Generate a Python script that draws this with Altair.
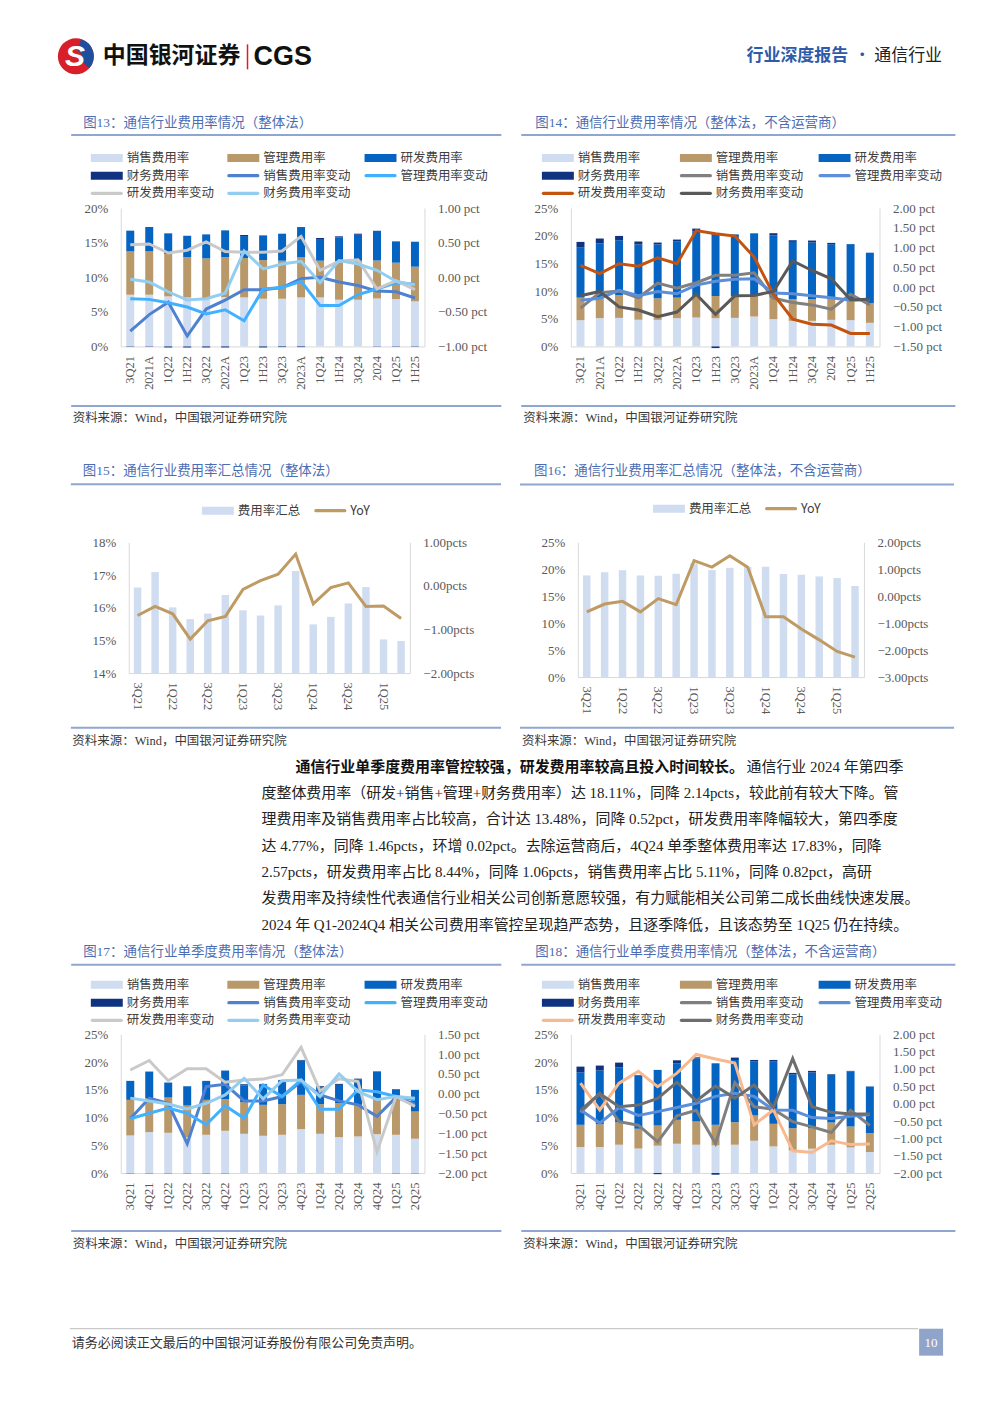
import altair as alt
import pandas as pd

# ---------------- categories ----------------
CATS_H = ["3Q21", "2021A", "1Q22", "1H22", "3Q22", "2022A", "1Q23", "1H23",
          "3Q23", "2023A", "1Q24", "1H24", "3Q24", "2024", "1Q25", "1H25"]
CATS_Q = ["3Q21", "4Q21", "1Q22", "2Q22", "3Q22", "4Q22", "1Q23", "2Q23",
          "3Q23", "4Q23", "1Q24", "2Q24", "3Q24", "4Q24", "1Q25", "2Q25"]

BAR_NAMES = ["销售费用率", "管理费用率", "研发费用率", "财务费用率"]
LINE_NAMES = ["销售费用率变动", "管理费用率变动", "研发费用率变动", "财务费用率变动"]

# ---------------- 图13 ----------------
F13_SALES = [7.47, 7.47, 7.23, 7.08, 6.99, 7.13, 7.08, 6.89, 6.89, 7.08, 7.08, 6.75, 6.75, 6.94, 6.84, 6.51]
F13_MGMT = [6.27, 6.27, 6.12, 5.84, 5.73, 5.79, 5.69, 5.59, 5.50, 5.79, 5.31, 5.49, 5.64, 5.49, 5.26, 5.01]
F13_RD = [2.99, 3.52, 2.99, 3.08, 3.47, 3.85, 3.18, 3.57, 3.90, 4.38, 3.13, 3.52, 3.75, 4.29, 3.08, 3.61]
F13_FIN = [-0.05, -0.05, -0.15, -0.15, -0.15, -0.15, 0.15, -0.15, -0.10, -0.10, 0.15, 0.15, 0.15, -0.05, -0.05, -0.05]
F13_D_SALES = [-0.78, -0.54, -0.36, -0.85, -0.46, -0.33, -0.18, -0.18, -0.15, -0.02, 0.00, -0.07, -0.12, -0.20, -0.21, -0.30]
F13_D_MGMT = [-0.31, -0.32, -0.37, -0.43, -0.53, -0.47, -0.63, -0.17, -0.15, -0.06, -0.41, -0.41, -0.25, -0.17, -0.08, -0.10]
F13_D_RD = [0.47, 0.48, 0.35, 0.39, 0.51, 0.37, 0.36, 0.36, 0.38, 0.59, 0.10, 0.23, 0.25, -0.17, -0.05, -0.18]
F13_D_FIN = [-0.03, -0.07, -0.21, -0.33, -0.31, -0.23, 0.38, 0.12, 0.19, 0.23, -0.08, 0.24, 0.19, 0.10, -0.06, -0.11]

# ---------------- 图14 ----------------
F14_SALES = [4.74, 5.10, 5.16, 4.80, 4.80, 5.10, 5.22, 5.10, 5.16, 5.40, 4.92, 4.62, 4.62, 4.80, 4.74, 4.26]
F14_MGMT = [4.07, 3.83, 4.13, 4.01, 3.89, 3.71, 3.89, 4.01, 3.95, 3.77, 3.90, 3.89, 3.89, 3.71, 3.65, 3.59]
F14_RD = [9.12, 9.66, 9.89, 9.60, 9.72, 10.19, 11.69, 11.21, 11.09, 11.15, 11.21, 10.37, 10.25, 9.96, 10.08, 9.06]
F14_FIN = [0.95, 0.90, 0.78, 0.53, 0.35, 0.30, 0.48, -0.30, 0.05, 0.10, 0.42, 0.30, 0.36, 0.23, 0.02, 0.02]
F14_D_SALES = [-0.53, -0.14, -0.10, -0.27, 0.10, -0.03, 0.11, 0.30, 0.30, 0.36, -0.28, -0.39, -0.45, -0.56, -0.18, -0.45]
F14_D_MGMT = [-0.33, -0.28, -0.08, -0.22, -0.11, -0.17, 0.05, 0.15, 0.20, 0.21, -0.15, -0.17, -0.22, -0.27, -0.33, -0.32]
F14_D_RD = [0.55, 0.34, 0.59, 0.53, 0.74, 0.59, 1.43, 1.35, 1.29, 0.76, -0.18, -0.81, -0.94, -0.96, -1.17, -1.17]
F14_D_FIN = [-0.22, -0.11, -0.50, -0.58, -0.75, -0.63, -0.18, -0.69, -0.22, -0.21, -0.11, 0.66, 0.42, 0.21, -0.32, -0.31]

# ---------------- 图15 ----------------
F15_TOTAL = [16.62, 17.09, 16.01, 15.65, 15.82, 16.39, 15.92, 15.76, 16.07, 17.12, 15.49, 15.72, 16.13, 16.63, 15.03, 14.98]
F15_YOY = [-0.68, -0.47, -0.64, -1.22, -0.80, -0.70, -0.08, 0.12, 0.27, 0.73, -0.41, -0.04, 0.07, -0.47, -0.46, -0.75]

# ---------------- 图16 ----------------
F16_TOTAL = [18.86, 19.47, 19.84, 18.86, 18.80, 19.16, 21.10, 19.84, 20.27, 20.40, 20.45, 19.10, 18.98, 18.67, 18.37, 16.89]
F16_YOY = [-0.58, -0.29, -0.19, -0.58, -0.09, -0.31, 1.32, 1.08, 1.50, 1.08, -0.76, -0.76, -1.22, -1.62, -2.05, -2.26]

# ---------------- 图17 ----------------
F17_SALES = [6.77, 7.37, 7.25, 6.47, 6.89, 7.61, 7.07, 6.71, 6.89, 7.91, 7.07, 6.47, 6.59, 7.00, 6.89, 6.18]
F17_MGMT = [6.42, 6.12, 6.36, 5.70, 6.30, 5.70, 5.70, 5.58, 5.52, 6.18, 5.34, 6.12, 5.70, 6.19, 6.78, 4.91]
F17_RD = [3.42, 4.80, 2.70, 3.48, 3.42, 5.16, 3.00, 3.72, 4.32, 6.17, 3.06, 3.30, 4.62, 5.10, 1.44, 3.90]
F17_FIN = [-0.05, -0.05, -0.05, -0.05, -0.05, -0.05, 0.23, 0.05, 0.05, 0.12, 0.18, 0.18, 0.10, 0.05, -0.05, -0.05]
F17_D_SALES = [-0.63, -0.11, -0.24, -1.26, 0.18, 0.24, -0.18, -0.18, -0.07, 0.31, -0.03, -0.18, -0.28, -0.57, -0.09, -0.26]
F17_D_MGMT = [-0.63, -0.49, -0.36, -0.49, -0.78, -0.30, -0.62, 0.22, -0.07, 0.35, -0.39, -0.39, 0.10, 0.05, -0.07, -0.15]
F17_D_RD = [0.60, 0.84, 0.33, 0.63, 0.63, 0.29, 0.35, 0.37, 0.48, 1.17, 0.07, 0.38, 0.31, -1.46, -0.07, -0.32]
F17_D_FIN = [-0.11, -0.18, -0.26, -0.38, -0.24, -0.03, 0.39, -0.13, 0.33, 0.35, -0.07, 0.50, 0.06, -0.15, -0.07, -0.11]

# ---------------- 图18 ----------------
F18_SALES = [4.68, 4.68, 5.10, 4.44, 4.92, 5.28, 5.10, 4.98, 5.10, 5.82, 4.80, 4.08, 4.38, 5.10, 4.62, 3.78]
F18_MGMT = [4.01, 4.13, 4.07, 3.53, 3.65, 4.31, 4.19, 3.71, 4.07, 4.55, 4.07, 4.01, 3.71, 4.01, 3.77, 3.41]
F18_RD = [9.48, 9.66, 9.89, 9.66, 10.02, 10.19, 11.39, 11.09, 11.21, 9.71, 11.21, 9.72, 10.02, 8.58, 9.90, 8.40]
F18_FIN = [1.01, 0.90, 0.84, 0.05, -0.20, 0.54, 0.18, -0.30, 0.42, 0.30, 0.30, 0.24, 0.30, 0.12, 0.12, 0.02]
F18_D_SALES = [-0.25, 0.29, -0.52, -0.62, -1.10, -0.35, -0.19, -1.15, 0.61, -0.09, -0.16, -0.52, -0.67, -0.83, -0.19, -0.63]
F18_D_MGMT = [-0.18, -0.56, -0.11, -0.34, -0.23, -0.11, 0.01, 0.21, 0.30, 0.21, -0.18, -0.19, -0.40, -0.43, -0.36, -0.31]
F18_D_RD = [0.59, -0.18, 0.59, 0.93, 0.49, 0.88, 1.42, 1.29, 1.17, -0.61, -0.18, -1.36, -1.41, -1.07, -1.18, -1.16]
F18_D_FIN = [-0.19, 0.29, -0.09, -0.04, 0.15, 0.62, 0.08, 0.51, 0.16, 0.54, -0.11, 1.30, -0.09, -0.25, -0.30, -0.30]

# ---------------- texts ----------------
T13 = "图13：通信行业费用率情况（整体法）"
T14 = "图14：通信行业费用率情况（整体法，不含运营商）"
T15 = "图15：通信行业费用率汇总情况（整体法）"
T16 = "图16：通信行业费用率汇总情况（整体法，不含运营商）"
T17 = "图17：通信行业单季度费用率情况（整体法）"
T18 = "图18：通信行业单季度费用率情况（整体法，不含运营商）"
SOURCE = "资料来源：Wind，中国银河证券研究院"
TOTAL_LEGEND = ["费用率汇总", "YoY"]

PARA_BOLD = "通信行业单季度费用率管控较强，研发费用率较高且投入时间较长。"
PARA_LINES = [
    "通信行业 2024 年第四季",
    "度整体费用率（研发+销售+管理+财务费用率）达 18.11%，同降 2.14pcts，较此前有较大下降。管",
    "理费用率及销售费用率占比较高，合计达 13.48%，同降 0.52pct，研发费用率降幅较大，第四季度",
    "达 4.77%，同降 1.46pcts，环增 0.02pct。去除运营商后，4Q24 单季整体费用率达 17.83%，同降",
    "2.57pcts，研发费用率占比 8.44%，同降 1.06pcts，销售费用率占比 5.11%，同降 0.82pct，高研",
    "发费用率及持续性代表通信行业相关公司创新意愿较强，有力赋能相关公司第二成长曲线快速发展。",
    "2024 年 Q1-2024Q4 相关公司费用率管控呈现趋严态势，且逐季降低，且该态势至 1Q25 仍在持续。",
]
FOOTER_TEXT = "请务必阅读正文最后的中国银河证券股份有限公司免责声明。"
PAGE_NO = "10"

# ---------------- styles ----------------
SERIF = "Liberation Serif"
CN = "Noto Sans CJK SC"
MIX = "Liberation Serif, Noto Sans CJK SC"
TITLE_C = "#4d6db3"
RULE_C = "#8fa6d0"
SRC_C = "#3a3a3a"
LBL_C = "#404040"
AX_C = "#595959"
FRAME_C = "#d9d9d9"
BAR_COLORS = ["#d0ddf1", "#b9996a", "#0563c1", "#0f3380"]
L13_COLORS = ["#4f81d1", "#40b0ff", "#c9c9c9", "#93cdef"]
L14_COLORS = ["#808080", "#5b8fd9", "#c4530f", "#595959"]
L18_COLORS = ["#7f7f7f", "#5b8fd9", "#f9b98f", "#6e6e6e"]
TOT_BAR_C = "#d0ddf1"
TOT_LINE_C = "#bf9b63"

ONE = pd.DataFrame({"k": [0]})
X0 = 9  # page x of the left edge of every row's content (after a 1px spacer)


def vtext(x, y, text, size, color, font=MIX, weight="normal", align="left", style="normal"):
    return alt.Chart(ONE).mark_text(
        text=text, font=font, fontSize=size, color=color, fontWeight=weight,
        align=align, baseline="middle", fontStyle=style
    ).encode(x=alt.value(x), y=alt.value(y))


def vrule(x0, x1, y0, y1, color, width):
    return alt.Chart(ONE).mark_rule(color=color, strokeWidth=width).encode(
        x=alt.value(x0), x2=alt.value(x1), y=alt.value(y0), y2=alt.value(y1))


def vrect(x0, x1, y0, y1, color, opacity=1.0):
    return alt.Chart(ONE).mark_rect(color=color, opacity=opacity).encode(
        x=alt.value(x0), x2=alt.value(x1), y=alt.value(y0), y2=alt.value(y1))


def spacer():
    return alt.Chart(ONE).mark_rect(opacity=0).encode(
        x=alt.value(0), x2=alt.value(1), y=alt.value(0), y2=alt.value(1)
    ).properties(width=1, height=1)


def legend_layers(entries, ox, oy):
    rects = [dict(x0=px - ox, x1=px + 32 - ox, y0=py - 4 - oy, y1=py + 4 - oy, c=col)
             for kind, px, py, lab, col in entries if kind == "bar"]
    lines = [dict(x0=px + 1.5 - ox, x1=px + 30.5 - ox, y=py - oy, c=col)
             for kind, px, py, lab, col in entries if kind == "line"]
    texts = [dict(x=px + 36 - ox, y=py - oy, t=lab) for kind, px, py, lab, col in entries]
    out = []
    if rects:
        out.append(alt.Chart(pd.DataFrame(rects)).mark_rect().encode(
            x=alt.X("x0:Q", scale=None, axis=None), x2=alt.X2("x1:Q"),
            y=alt.Y("y0:Q", scale=None, axis=None), y2=alt.Y2("y1:Q"),
            fill=alt.Fill("c:N", scale=None, legend=None)))
    if lines:
        out.append(alt.Chart(pd.DataFrame(lines)).mark_rule(strokeWidth=3.2, strokeCap="round").encode(
            x=alt.X("x0:Q", scale=None, axis=None), x2=alt.X2("x1:Q"),
            y=alt.Y("y:Q", scale=None, axis=None),
            stroke=alt.Stroke("c:N", scale=None, legend=None)))
    out.append(alt.Chart(pd.DataFrame(texts)).mark_text(
        align="left", baseline="middle", font=CN, fontSize=12.5, color=LBL_C).encode(
        x=alt.X("x:Q", scale=None, axis=None), y=alt.Y("y:Q", scale=None, axis=None), text="t:N"))
    return out


def frame_layers(g, title, entries):
    ox, oy = g["ox"], g["oy"]
    L = [vrect(g["bx0"] - ox, g["bx1"] - ox, g["by0"] - oy, g["by1"] - oy, "#ffffff", 0.0)]
    L.append(vtext(g["tx"] - ox, g["ty"] - oy, title, 13.5, TITLE_C))
    L.append(vrule(g["rx0"] - ox, g["rx1"] - ox, g["uy"] - oy, g["uy"] - oy, RULE_C, 2))
    L.append(vrule(g["rx0"] - ox, g["rx1"] - ox, g["ly"] - oy, g["ly"] - oy, RULE_C, 2))
    L.append(vtext(g["sx"] - ox, g["sy"] - oy, SOURCE, 12.5, SRC_C))
    L += legend_layers(entries, ox, oy)
    return L


def axis_x(angle, values=None):
    kw = dict(title=None, labelAngle=angle, labelFont=SERIF, labelFontSize=12.5, labelColor=AX_C,
              ticks=False, tickSize=0, domainColor=FRAME_C, domainWidth=1, labelPadding=9,
              grid=False, labelOverlap=False)
    if values is not None:
        kw["values"] = values
    return alt.Axis(**kw)


def axis_left(values):
    return alt.Axis(title=None, orient="left", values=values, labelExpr="datum.value + '%'",
                    labelFont=SERIF, labelFontSize=13, labelColor=AX_C, ticks=False, tickSize=0,
                    domainColor=FRAME_C, labelPadding=13, grid=False, labelOverlap=False)


def axis_right(values, suffix):
    return alt.Axis(title=None, orient="right", values=values,
                    labelExpr="format(datum.value, '.2f') + '" + suffix + "'",
                    labelFont=SERIF, labelFontSize=13, labelColor=AX_C, ticks=False, tickSize=0,
                    domainColor=FRAME_C, labelPadding=13, grid=False, labelOverlap=False)


def steps(lo, hi, st):
    n = int(round((hi - lo) / st))
    return [round(lo + i * st, 2) for i in range(n + 1)]


def stacked_panel(g, title, cats, bar_vals, line_vals, line_colors, ymax, rmin, rmax, rstep):
    brows, lrows = [], []
    for k, (nm, arr) in enumerate(zip(BAR_NAMES, bar_vals)):
        for c, v in zip(cats, arr):
            brows.append({"cat": c, "series": nm, "v": v, "k": k})
    for nm, arr in zip(LINE_NAMES, line_vals):
        for c, v in zip(cats, arr):
            lrows.append({"cat": c, "series": nm, "v": v})
    xs = alt.Scale(type="band", paddingInner=0, paddingOuter=0)
    xax = axis_x(270)
    bars = alt.Chart(pd.DataFrame(brows)).mark_bar(size=8).encode(
        x=alt.X("cat:N", sort=cats, scale=xs, axis=xax),
        y=alt.Y("v:Q", stack="zero", scale=alt.Scale(domain=[0, ymax], nice=False),
                axis=axis_left(list(range(0, ymax + 1, 5)))),
        color=alt.Color("series:N", scale=alt.Scale(domain=BAR_NAMES, range=BAR_COLORS), legend=None),
        order=alt.Order("k:Q"),
    )
    lines = alt.Chart(pd.DataFrame(lrows)).mark_line(strokeWidth=3).encode(
        x=alt.X("cat:N", sort=cats, scale=xs, axis=xax, bandPosition=0.5),
        y=alt.Y("v:Q", scale=alt.Scale(domain=[rmin, rmax], nice=False, zero=False),
                axis=axis_right(steps(rmin, rmax, rstep), " pct")),
        color=alt.Color("series:N", scale=alt.Scale(domain=LINE_NAMES, range=line_colors), legend=None),
    )
    names = BAR_NAMES + LINE_NAMES
    kinds = ["bar"] * 4 + ["line"] * 4
    colors = BAR_COLORS + line_colors
    entries = [(kinds[i], g["cx"][i % 3], g["ry"][i // 3], names[i], colors[i]) for i in range(8)]
    layers = [bars, lines] + frame_layers(g, title, entries)
    return alt.layer(*layers).resolve_scale(y="independent", color="independent").properties(
        width=g["W"], height=g["H"])


def total_panel(g, title, cats, totals, yoy, ymin, ymax, ystep, rmin, rmax):
    xs = alt.Scale(type="band", paddingInner=0, paddingOuter=0)
    xax = axis_x(90, values=cats[::2])
    bdf = pd.DataFrame({"cat": cats, "v": totals})
    ldf = pd.DataFrame({"cat": cats, "v": yoy})
    bars = alt.Chart(bdf).mark_bar(size=7.5, color=TOT_BAR_C).encode(
        x=alt.X("cat:N", sort=cats, scale=xs, axis=xax),
        y=alt.Y("v:Q", scale=alt.Scale(domain=[ymin, ymax], nice=False, zero=False),
                axis=axis_left(list(range(ymin, ymax + 1, ystep)))),
        y2=alt.datum(ymin),
    )
    line = alt.Chart(ldf).mark_line(strokeWidth=3, color=TOT_LINE_C).encode(
        x=alt.X("cat:N", sort=cats, scale=xs, axis=xax, bandPosition=0.5),
        y=alt.Y("v:Q", scale=alt.Scale(domain=[rmin, rmax], nice=False, zero=False),
                axis=axis_right(steps(rmin, rmax, 1), "pcts")),
    )
    entries = [("bar", g["lb"], g["ly0"], TOTAL_LEGEND[0], TOT_BAR_C),
               ("line", g["ll"], g["ly0"], TOTAL_LEGEND[1], TOT_LINE_C)]
    layers = [bars, line] + frame_layers(g, title, entries)
    return alt.layer(*layers).resolve_scale(y="independent").properties(width=g["W"], height=g["H"])


# ---------------- geometry (page pixels) ----------------
LEFT_FRAME = dict(bx0=X0, bx1=512, rx0=71, rx1=502, tx=83, sx=72.5)
RIGHT_FRAME = dict(bx0=512, bx1=984, rx0=521, rx1=956, tx=535, sx=523)

G13 = dict(LEFT_FRAME, ox=120.7, oy=206.7, W=304.3, H=138.7, by0=100, by1=440,
           ty=121.5, uy=133.5, ly=405, sy=417, cx=[90.7, 227.5, 365], ry=[156.5, 174.3, 192])
G14 = dict(RIGHT_FRAME, ox=570.7, oy=206.7, W=309.3, H=138.7, by0=100, by1=440,
           ty=121.5, uy=133.5, ly=405, sy=417, cx=[541.7, 680, 819], ry=[156.5, 174.3, 192])
G15 = dict(LEFT_FRAME, ox=129, oy=541, W=281.7, H=131, by0=440, by1=752,
           ty=469.3, uy=482.7, ly=726.7, sy=740, lb=202.3, ll=315, ly0=509.3)
G16 = dict(RIGHT_FRAME, ox=579, oy=541, W=286.7, H=135, by0=440, by1=752,
           ty=470, uy=483, ly=726.7, sy=740, lb=654.3, ll=766.7, ly0=507.3)
G17 = dict(LEFT_FRAME, ox=120.7, oy=1034, W=304.3, H=139, by0=940, by1=1280,
           ty=951.5, uy=964.3, ly=1231, sy=1244, cx=[90.7, 227.5, 365], ry=[984.3, 1002.3, 1020])
G18 = dict(RIGHT_FRAME, ox=570.7, oy=1034, W=309.3, H=139, by0=940, by1=1280,
           ty=951.5, uy=964.3, ly=1231, sy=1244, cx=[541.7, 680, 819], ry=[984.3, 1002.3, 1020])

p13 = stacked_panel(G13, T13, CATS_H, [F13_SALES, F13_MGMT, F13_RD, F13_FIN],
                    [F13_D_SALES, F13_D_MGMT, F13_D_RD, F13_D_FIN], L13_COLORS, 20, -1.0, 1.0, 0.5)
p14 = stacked_panel(G14, T14, CATS_H, [F14_SALES, F14_MGMT, F14_RD, F14_FIN],
                    [F14_D_SALES, F14_D_MGMT, F14_D_RD, F14_D_FIN], L14_COLORS, 25, -1.5, 2.0, 0.5)
p15 = total_panel(G15, T15, CATS_Q, F15_TOTAL, F15_YOY, 14, 18, 1, -2.0, 1.0)
p16 = total_panel(G16, T16, CATS_Q, F16_TOTAL, F16_YOY, 0, 25, 5, -3.0, 2.0)
p17 = stacked_panel(G17, T17, CATS_Q, [F17_SALES, F17_MGMT, F17_RD, F17_FIN],
                    [F17_D_SALES, F17_D_MGMT, F17_D_RD, F17_D_FIN], L13_COLORS, 25, -2.0, 1.5, 0.5)
p18 = stacked_panel(G18, T18, CATS_Q, [F18_SALES, F18_MGMT, F18_RD, F18_FIN],
                    [F18_D_SALES, F18_D_MGMT, F18_D_RD, F18_D_FIN], L18_COLORS, 25, -2.0, 2.0, 0.5)

ROW_W = 984 - X0


def px(x):
    return x - X0


# ---------------- header (page y 8..100) ----------------
HDR_H = 92
LOGO_X, LOGO_Y = px(76), 47
header = alt.layer(
    vrect(0, ROW_W, 0, HDR_H, "#ffffff", 0.0),
    alt.Chart(ONE).mark_arc(theta=0, theta2=6.2832, radius=18, color="#d81e28").encode(
        x=alt.value(LOGO_X), y=alt.value(LOGO_Y)),
    alt.Chart(ONE).mark_arc(theta=0.3, theta2=2.3, radius=18, innerRadius=6, color="#1f4e9e").encode(
        x=alt.value(LOGO_X), y=alt.value(LOGO_Y)),
    vtext(LOGO_X - 1, LOGO_Y + 1, "S", 30, "#ffffff", font="Liberation Sans", weight="bold",
          align="center", style="italic"),
    vtext(px(103), 47, "中国银河证券", 23, "#111111", font=CN, weight="bold"),
    vrule(px(248), px(248), 35, 60, "#d81e28", 1.5),
    vtext(px(254), 48, "CGS", 27, "#111111", font="Liberation Sans", weight="bold"),
    vtext(px(748), 47, "行业深度报告", 17, "#2d5ba9", font=CN, weight="bold"),
    vtext(px(864), 47, "·", 17, "#2d5ba9", font=CN, align="center"),
    vtext(px(876), 47, "通信行业", 17, "#222222", font=CN),
).properties(width=ROW_W, height=HDR_H)

# ---------------- paragraph (page y 752..940) ----------------
PARA_H = 188
para_layers = [vrect(0, ROW_W, 0, PARA_H, "#ffffff", 0.0)]
line_y = [14, 40.3, 66.6, 93, 119.3, 145.6, 172]
para_layers.append(vtext(px(296), line_y[0], PARA_BOLD, 15, "#111111", font=MIX, weight="bold"))
para_layers.append(vtext(px(748), line_y[0], PARA_LINES[0], 15, "#222222", font=MIX))
for i in range(1, 7):
    para_layers.append(vtext(px(262), line_y[i], PARA_LINES[i], 15, "#222222", font=MIX))
para = alt.layer(*para_layers).properties(width=ROW_W, height=PARA_H)

# ---------------- footer (page y 1280..1395) ----------------
FOOT_H = 115
footer = alt.layer(
    vrect(0, ROW_W, 0, FOOT_H, "#ffffff", 0.0),
    vrule(px(70), px(920), 49, 49, "#bdbdbd", 1),
    vrect(px(921), px(945), 49, 76, "#8fa4c8"),
    vtext(px(933), 63, PAGE_NO, 13, "#ffffff", font=SERIF, align="center"),
    vtext(px(72), 63, FOOTER_TEXT, 13, "#333333", font=CN),
).properties(width=ROW_W, height=FOOT_H)

rows = [
    alt.hconcat(spacer(), header, spacing=0),
    alt.hconcat(spacer(), p13, p14, spacing=0),
    alt.hconcat(spacer(), p15, p16, spacing=0),
    alt.hconcat(spacer(), para, spacing=0),
    alt.hconcat(spacer(), p17, p18, spacing=0),
    alt.hconcat(spacer(), footer, spacing=0),
]

chart = alt.vconcat(*rows, spacing=0).properties(padding=0).configure_view(stroke=None)

chart.save("out.html", embed_options={"renderer": "svg", "actions": False})
